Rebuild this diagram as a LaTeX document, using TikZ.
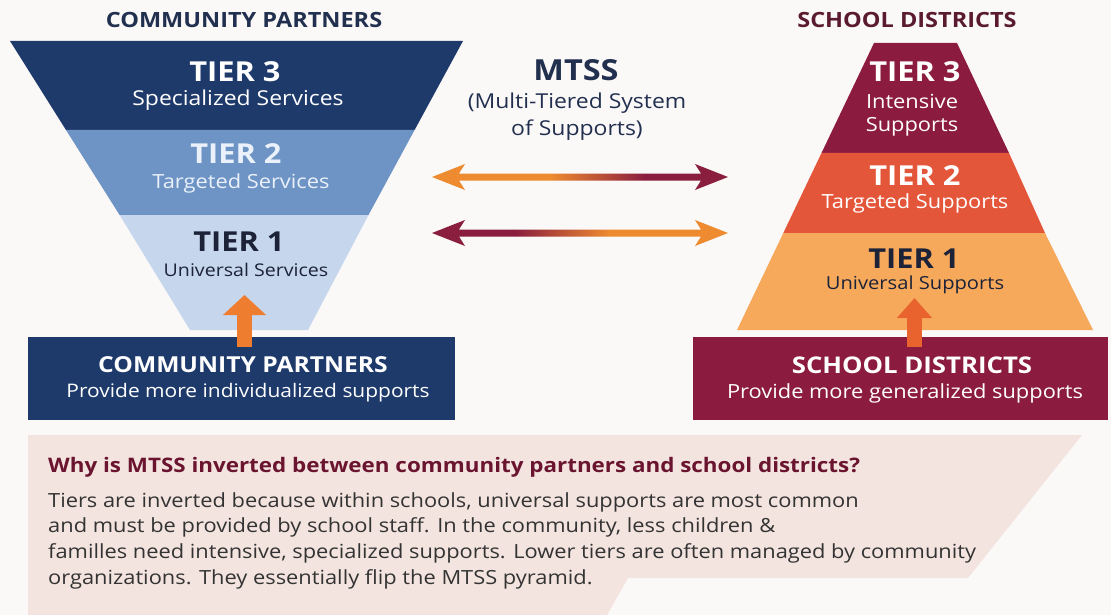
\documentclass[tikz,border=0pt]{standalone}
\usepackage{fontspec}
\setmainfont[FakeStretch=1.12]{Open Sans}
\usetikzlibrary{arrows.meta,calc}
\definecolor{bgc}{HTML}{FBF8F8}
\definecolor{navy}{HTML}{1E3A6B}
\definecolor{blueB}{HTML}{6E94C5}
\definecolor{blueC}{HTML}{C6D7ED}
\definecolor{headnavy}{HTML}{22304F}
\definecolor{maroon}{HTML}{8C1C3F}
\definecolor{redB}{HTML}{E4563A}
\definecolor{orangeC}{HTML}{F6A95B}
\definecolor{arrOr}{HTML}{EE8A30}
\definecolor{arrMa}{HTML}{8A1E3E}
\definecolor{upOrL}{HTML}{EE7D2F}
\definecolor{upOrR}{HTML}{E8632E}
\definecolor{panel}{HTML}{F3E4DF}
\definecolor{panelhead}{HTML}{6A1430}
\definecolor{bodytext}{HTML}{333333}
\definecolor{schoolhead}{HTML}{5A1A30}
\definecolor{tiertwotext}{HTML}{EAF1FA}
\definecolor{darktext}{HTML}{1C2238}
\pgfdeclarehorizontalshading{omshade}{100bp}{color(0bp)=(arrOr); color(45bp)=(arrOr); color(61bp)=(arrMa); color(100bp)=(arrMa)}
\pgfdeclarehorizontalshading{moshade}{100bp}{color(0bp)=(arrMa); color(39bp)=(arrMa); color(55bp)=(arrOr); color(100bp)=(arrOr)}
\tikzset{
  lbl/.style={inner sep=0pt, align=center},
  tiertxt/.style={lbl, font=\bfseries\fontsize{27.5}{30}\selectfont},
  subtxt/.style={lbl, font=\fontsize{19.5}{25}\selectfont},
  headtxt/.style={lbl, font=\bfseries\fontsize{21}{25}\selectfont},
  boxtitle/.style={lbl, font=\bfseries\fontsize{22}{26}\selectfont, text=white},
  boxsub/.style={lbl, font=\fontsize{18.7}{24}\selectfont, text=white},
  basebox/.style={rectangle, inner sep=0pt, minimum width=#1, minimum height=83pt},
  bodyline/.style={anchor=west, inner sep=0pt, font=\fontsize{19.5}{22}\selectfont, text=bodytext},
  uparrow/.style={line width=15pt, -{Triangle[width=#1, length=20pt]}},
}
\begin{document}
\begin{tikzpicture}[x=1pt, y=-1pt]
\useasboundingbox (0,0) rectangle (1111,615);
\fill[bgc] (0,0) rectangle (1111,615);

% ---------- left inverted pyramid ----------
\fill[navy]  (10,41) -- (463,41) -- (414.6,130) -- (66,130) -- cycle;
\fill[blueB] (66,130) -- (414.6,130) -- (368.5,215) -- (119.6,215) -- cycle;
\fill[blueC] (119.6,215) -- (368.5,215) -- (308,330) -- (190,330) -- cycle;

\node[headtxt, text=headnavy] (lhead) at (244,20) {COMMUNITY PARTNERS};
\node[tiertxt, text=white] (lt3) at (235,72) {TIER 3};
\node[subtxt, text=white, font=\fontsize{20.5}{25}\selectfont] (lt3s) at (238,100) {Specialized Services};
\node[tiertxt, text=tiertwotext] (lt2) at (236,154) {TIER 2};
\node[subtxt, text=tiertwotext] (lt2s) at (241,183) {Targeted Services};
\node[tiertxt, text=darktext] (lt1) at (239,242) {TIER 1};
\node[subtxt, text=darktext, font=\fontsize{17.5}{22}\selectfont] (lt1s) at (246,270) {Universal Services};

\node[basebox=427pt, fill=navy] (lbox) at (241.5,378.5) {};
\node[boxtitle] (lboxt) at (243,365) {COMMUNITY PARTNERS};
\node[boxsub] (lboxs) at (248,393) {Provide more individualized supports};
\coordinate (lupS) at (244.5,347);
\coordinate (lupE) at (244.5,295);
\draw[uparrow=42pt, draw=upOrL, fill=upOrL] (lupS) -- (lupE);

% ---------- right pyramid ----------
\fill[maroon]  (874,43) -- (957,43) -- (1009,153) -- (821.5,153) -- cycle;
\fill[redB]    (821.5,153) -- (1009,153) -- (1045,233) -- (783.3,233) -- cycle;
\fill[orangeC] (783.3,233) -- (1045,233) -- (1093,330) -- (737,330) -- cycle;

\node[headtxt, text=schoolhead] (rhead) at (907,20) {SCHOOL DISTRICTS};
\node[tiertxt, text=white] (rt3) at (915,72) {TIER 3};
\node[subtxt, text=white] (rt3s) at (912,101) {Intensive};
\node[subtxt, text=white] (rt3t) at (912,127) {Supports};
\node[tiertxt, text=white] (rt2) at (915,176) {TIER 2};
\node[subtxt, text=white] (rt2s) at (915,203) {Targeted Supports};
\node[tiertxt, text=darktext] (rt1) at (914,259) {TIER 1};
\node[subtxt, text=darktext, font=\fontsize{18}{22}\selectfont] (rt1s) at (915,285) {Universal Supports};

\node[basebox=415pt, fill=maroon] (rbox) at (900.5,378.5) {};
\node[boxtitle, font=\bfseries\fontsize{23}{26}\selectfont] (rboxt) at (912,365) {SCHOOL DISTRICTS};
\node[boxsub, font=\fontsize{19.5}{24}\selectfont] (rboxs) at (905,393) {Provide more generalized supports};
\coordinate (rupS) at (914.5,347);
\coordinate (rupE) at (914.5,298);
\draw[uparrow=34pt, draw=upOrR, fill=upOrR] (rupS) -- (rupE);

% ---------- middle ----------
\node[lbl, font=\bfseries\fontsize{29}{32}\selectfont, text=headnavy] (mtss) at (576,70) {MTSS};
\node[lbl, font=\fontsize{20.5}{24}\selectfont, text=headnavy] (mtssa) at (577,103) {(Multi-Tiered System};
\node[lbl, font=\fontsize{20.5}{24}\selectfont, text=headnavy] (mtssb) at (577,130) {of Supports)};

\coordinate (a1L) at (432,177);
\coordinate (a1R) at (728,177);
\coordinate (a2L) at (432,233);
\coordinate (a2R) at (728,233);
\shade[shading=omshade] (a1L) -- ++(33,-13) -- ++(-6,9.5) -- ($(a1R)+(-27,-3.5)$) -- ++(-6,-9.5) -- (a1R) -- ++(-33,13) -- ++(6,-9.5) -- ($(a1L)+(27,3.5)$) -- ++(6,9.5) -- cycle;
\shade[shading=moshade] (a2L) -- ++(33,-13) -- ++(-6,9.5) -- ($(a2R)+(-27,-3.5)$) -- ++(-6,-9.5) -- (a2R) -- ++(-33,13) -- ++(6,-9.5) -- ($(a2L)+(27,3.5)$) -- ++(6,9.5) -- cycle;

% ---------- bottom panel ----------
\fill[panel] (28,435) -- (1082,435) -- (968,578) -- (628,578) -- (607,615) -- (28,615) -- cycle;
\node[anchor=west, inner sep=0pt, font=\bfseries\fontsize{20}{23}\selectfont, text=panelhead] (why) at (48,467) {Why is MTSS inverted between community partners and school districts?};
\node[bodyline] (b1) at (48,502) {Tiers are inverted because within schools, universal supports are most common};
\node[bodyline] (b2) at (48,527) {and must be provided by school staff. In the community, less children \&};
\node[bodyline] (b3) at (48,553) {familles need intensive, specialized supports. Lower tiers are often managed by community};
\node[bodyline] (b4) at (48,579) {organizations. They essentially flip the MTSS pyramid.};
\end{tikzpicture}
\end{document}
